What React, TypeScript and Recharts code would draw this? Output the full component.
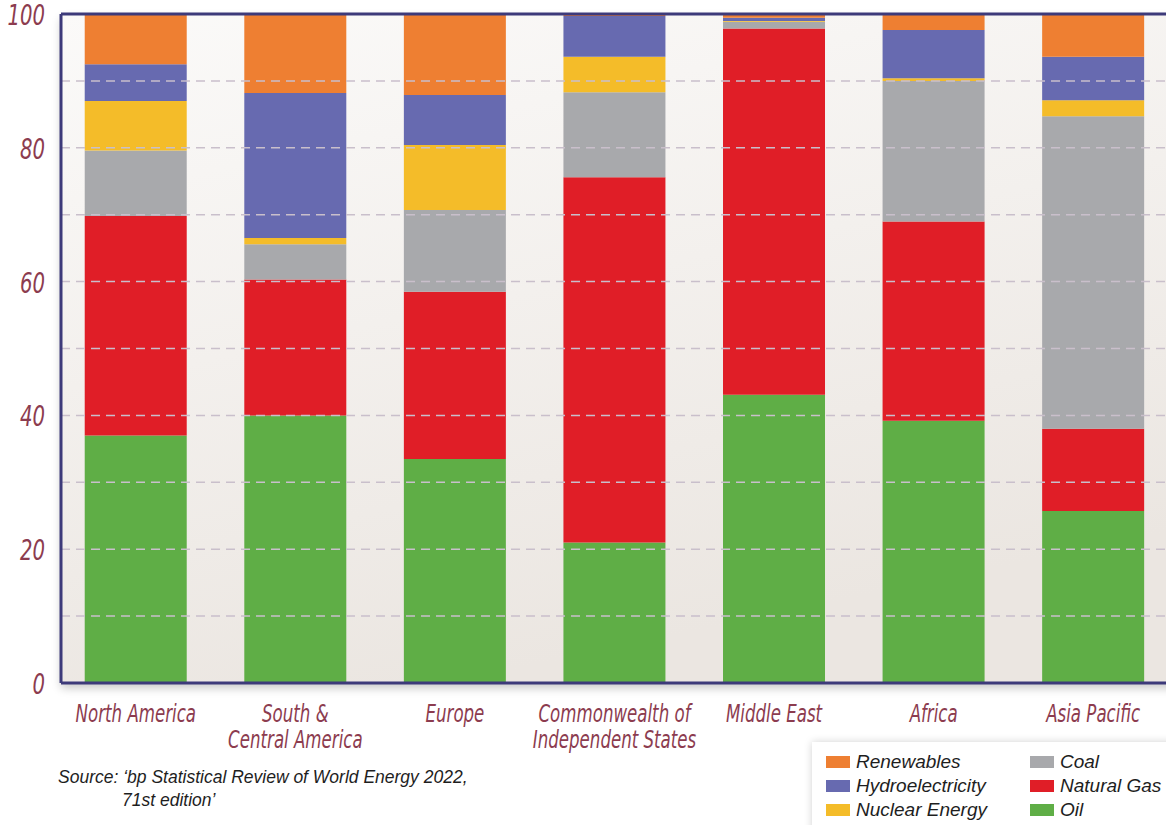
import React from "react";
import {
  BarChart,
  Bar,
  XAxis,
  YAxis,
  CartesianGrid,
  ReferenceLine,
} from "recharts";

// regions, bottom-to-top energy mix (% share)
const regions = [
  "North America",
  "South &\nCentral America",
  "Europe",
  "Commonwealth of\nIndependent States",
  "Middle East",
  "Africa",
  "Asia Pacific",
];
const oil = [37.0, 40.0, 33.5, 21.0, 43.1, 39.2, 25.7];
const naturalGas = [32.8, 20.3, 25.0, 54.6, 54.75, 29.8, 12.3];
const coal = [9.8, 5.3, 12.2, 12.7, 1.0, 21.0, 46.7];
const nuclear = [7.4, 0.9, 9.7, 5.3, 0.1, 0.4, 2.4];
const hydro = [5.5, 21.7, 7.5, 6.1, 0.5, 7.2, 6.5];
const renewables = [7.5, 11.8, 12.1, 0.3, 0.55, 2.4, 6.4];

const yTicks = [0, 20, 40, 60, 80, 100];
const gridLines = [10, 20, 30, 40, 50, 60, 70, 80, 90];

const series = [
  { key: "oil", name: "Oil", color: "#5fae46" },
  { key: "gas", name: "Natural Gas", color: "#e01e27" },
  { key: "coal", name: "Coal", color: "#a8a9ac" },
  { key: "nuclear", name: "Nuclear Energy", color: "#f4bc29" },
  { key: "hydro", name: "Hydroelectricity", color: "#676ab0" },
  { key: "renewables", name: "Renewables", color: "#ee7f32" },
];

const legendCols = [
  ["renewables", "hydro", "nuclear"],
  ["coal", "gas", "oil"],
];

const data = regions.map((region, i) => ({
  region,
  oil: oil[i],
  gas: naturalGas[i],
  coal: coal[i],
  nuclear: nuclear[i],
  hydro: hydro[i],
  renewables: renewables[i],
}));

const MAROON = "#8c3c4f";
const NAVY = "#3d3a7a";
const labelFont = "'DejaVu Sans Condensed', 'DejaVu Sans', sans-serif";

// condensed italic labels: squeeze horizontally to mimic a narrow face
const RegionTick = (props: any) => {
  const { x, y, payload } = props;
  const lines = String(payload.value).split("\n");
  return (
    <g transform={`translate(${x},${y}) scale(0.74,1)`}>
      <text
        x={0}
        y={0}
        textAnchor="middle"
        fill={MAROON}
        fontSize={25}
        fontStyle="italic"
        fontFamily={labelFont}
      >
        {lines.map((l, i) => (
          <tspan key={i} x={0} dy={i === 0 ? 39 : 26}>
            {l}
          </tspan>
        ))}
      </text>
    </g>
  );
};

const ValueTick = (props: any) => {
  const { x, y, payload } = props;
  return (
    <g transform={`translate(${x},${y}) scale(0.78,1)`}>
      <text
        x={0}
        y={0}
        dy={11}
        textAnchor="end"
        fill={MAROON}
        fontSize={28}
        fontStyle="italic"
        fontFamily={labelFont}
      >
        {payload.value}
      </text>
    </g>
  );
};

export default function App() {
  return (
    <div
      style={{
        position: "absolute",
        left: 0,
        top: 0,
        width: 1166,
        height: 825,
        overflow: "hidden",
        background: "#fff",
      }}
    >
      {/* soft shadow behind plot frame */}
      <div
        style={{
          position: "absolute",
          left: 61,
          top: 14,
          width: 1130,
          height: 669,
          boxShadow: "0 5px 9px rgba(0,0,0,0.22)",
        }}
      />
      <div style={{ position: "absolute", left: 0, top: 0 }}>
        <BarChart
          width={1180}
          height={825}
          data={data}
          margin={{ top: 14, right: 7, left: 0, bottom: 0 }}
          barCategoryGap="18%"
        >
          <defs>
            <linearGradient id="plotBg" x1="0" y1="0" x2="0.35" y2="1">
              <stop offset="0%" stopColor="#fbfaf9" />
              <stop offset="100%" stopColor="#ebe6e1" />
            </linearGradient>
          </defs>
          <CartesianGrid
            horizontal={false}
            vertical={false}
            fill="url(#plotBg)"
            fillOpacity={1}
          />
          <XAxis
            dataKey="region"
            height={142}
            padding={{ left: -5, right: 0 }}
            axisLine={{ stroke: NAVY, strokeWidth: 3 }}
            tickLine={false}
            tickSize={0}
            tickMargin={0}
            interval={0}
            tick={<RegionTick />}
          />
          <YAxis
            width={61}
            domain={[0, 100]}
            ticks={yTicks}
            axisLine={{ stroke: NAVY, strokeWidth: 3 }}
            tickLine={false}
            tickSize={0}
            tickMargin={16}
            tick={<ValueTick />}
          />
          {series.map((s) => (
            <Bar
              key={s.key}
              dataKey={s.key}
              name={s.name}
              stackId="mix"
              fill={s.color}
              isAnimationActive={false}
            />
          ))}
          {gridLines.map((v) => (
            <ReferenceLine
              key={v}
              y={v}
              stroke="#c9bfcb"
              strokeWidth={1.5}
              strokeDasharray="9 6"
            />
          ))}
          <ReferenceLine y={100} stroke={NAVY} strokeWidth={3} />
        </BarChart>
      </div>

      <div
        style={{
          position: "absolute",
          left: 58,
          top: 766,
          fontFamily: "'Liberation Sans', Arial, sans-serif",
          fontStyle: "italic",
          fontSize: 17.5,
          lineHeight: "23px",
          color: "#1e1e1e",
        }}
      >
        <div>Source: ‘bp Statistical Review of World Energy 2022,</div>
        <div style={{ paddingLeft: 64 }}>71st edition’</div>
      </div>

      <div
        style={{
          position: "absolute",
          left: 812,
          top: 742,
          width: 380,
          height: 90,
          background: "#fff",
          boxShadow: "0 0 8px rgba(0,0,0,0.18)",
          display: "flex",
          fontFamily: "'Liberation Sans', Arial, sans-serif",
          fontStyle: "italic",
          fontSize: 19,
          color: "#1e1e1e",
        }}
      >
        {legendCols.map((col, ci) => (
          <div
            key={ci}
            style={{
              paddingTop: 8,
              paddingLeft: ci === 0 ? 14 : 0,
              width: ci === 0 ? 204 : 160,
            }}
          >
            {col.map((k) => {
              const s = series.find((x) => x.key === k)!;
              return (
                <div
                  key={k}
                  style={{ display: "flex", alignItems: "center", height: 24 }}
                >
                  <span
                    style={{
                      display: "inline-block",
                      width: 24,
                      height: 12,
                      background: s.color,
                      marginRight: 6,
                    }}
                  />
                  {s.name}
                </div>
              );
            })}
          </div>
        ))}
      </div>
    </div>
  );
}
